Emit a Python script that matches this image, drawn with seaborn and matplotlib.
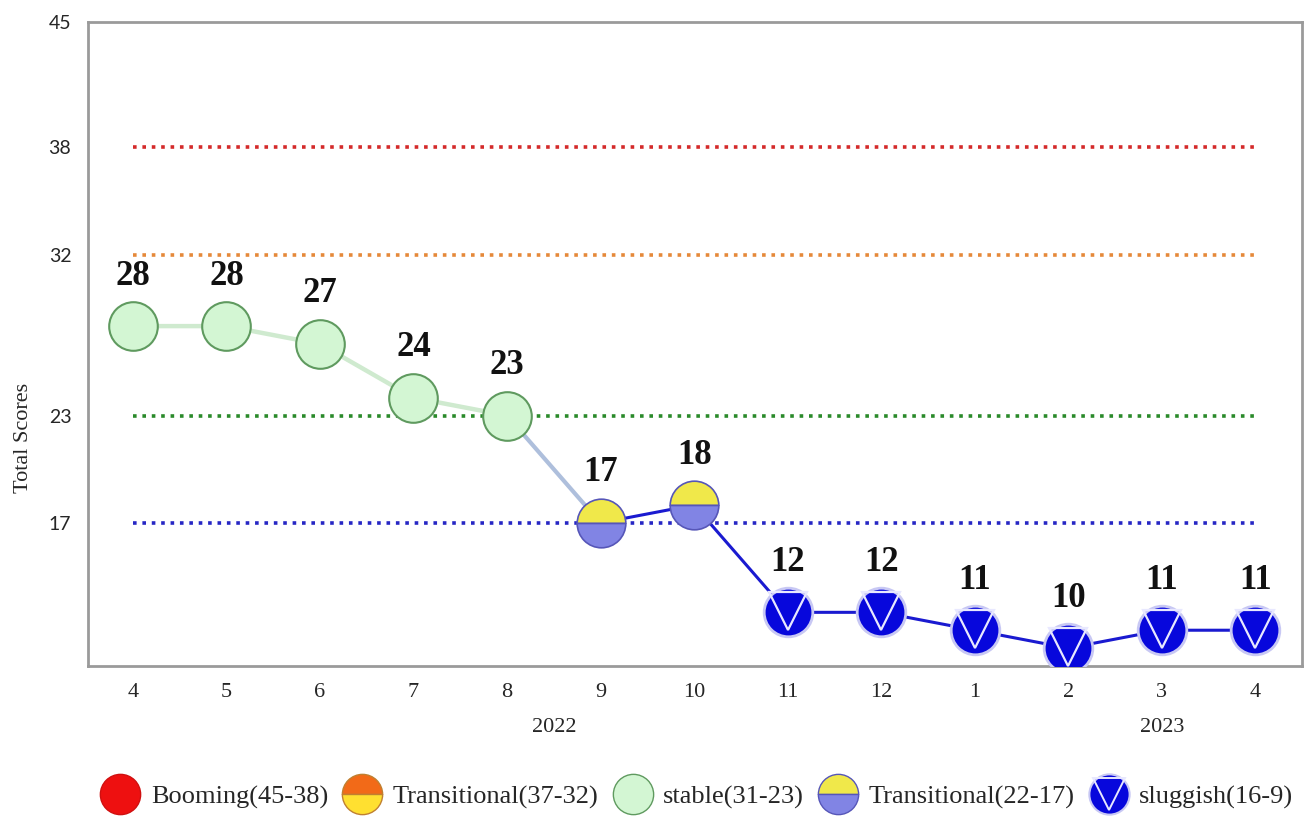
import matplotlib
matplotlib.use("Agg")
import matplotlib.pyplot as plt
from matplotlib.lines import Line2D
from matplotlib.legend_handler import HandlerTuple
import seaborn as sns
import pandas as pd

# ---- data ----
months = ["4", "5", "6", "7", "8", "9", "10", "11", "12", "1", "2", "3", "4"]
scores = [28, 28, 27, 24, 23, 17, 18, 12, 12, 11, 10, 11, 11]
states = ["stable"] * 5 + ["trans2"] * 2 + ["sluggish"] * 6
thresholds = [38, 32, 23, 17]
threshold_colors = ["#d42a2a", "#e5893a", "#2a8a2a", "#2626c4"]
yticks = [17, 23, 32, 38, 45]
years = ["2022", "2023"]
year_pos = [4.5, 11.0]
legend_labels = ["Booming(45-38)", "Transitional(37-32)", "stable(31-23)",
                 "Transitional(22-17)", "sluggish(16-9)"]

df = pd.DataFrame({"x": range(len(scores)), "score": scores, "state": states})

sns.set_style("white")
plt.rcParams["font.family"] = ["Liberation Serif", "DejaVu Serif"]

W, H = 1308, 816
fig = plt.figure(figsize=(W / 100, H / 100), dpi=100)
ax = fig.add_axes([88 / W, 1 - 666 / H, (1302 - 88) / W, (666 - 22) / H])

# threshold dotted lines
for t, c in zip(thresholds, threshold_colors):
    ax.hlines(t, 0, len(scores) - 1, colors=c, linestyles=(0, (1, 1.6)), linewidth=2.6, zorder=1)

# connecting lines
green_part = df[df.x <= 4]
blue_part = df[df.x >= 5]
mid_part = df[(df.x >= 4) & (df.x <= 5)]
sns.lineplot(data=green_part, x="x", y="score", color="#cfeacf", linewidth=3.2, ax=ax, zorder=2)
sns.lineplot(data=mid_part, x="x", y="score", color="#aebfdc", linewidth=3, ax=ax, zorder=2)
sns.lineplot(data=blue_part, x="x", y="score", color="#1a1ad0", linewidth=2.2, ax=ax, zorder=2)

ms = 35  # marker size in points
# stable markers
st = df[df.state == "stable"]
ax.plot(st.x, st.score, "o", ms=ms, mfc="#d3f6d3", mec="#5f9a5f", mew=1.5, ls="none", zorder=3)
# transitional markers (yellow top / blue bottom)
tr = df[df.state == "trans2"]
ax.plot(tr.x, tr.score, "o", ms=ms, fillstyle="top", mfc="#f0e84a", mfcalt="#8184e4",
        mec="#5656b8", mew=1.2, ls="none", zorder=3)
# sluggish markers
sl = df[df.state == "sluggish"]
ax.plot(sl.x, sl.score, "o", ms=ms, mfc="#0707dc", mec="#c8c8f4", mew=2, ls="none", zorder=3)
ax.plot(sl.x, sl.score + 0.05, "v", ms=ms * 0.8, mfc="none", mec="#e8e8ff", mew=1.6, ls="none", zorder=4)

# value labels
for xi, yi in zip(df.x, df.score):
    ax.annotate(str(yi), (xi, yi), xytext=(0, 36), textcoords="offset points",
                ha="center", va="center", fontsize=25, fontweight="bold", color="#111111", zorder=5)

ax.set_xlim(-0.48, 12.5)
ax.set_ylim(9, 45)
ax.set_xticks(range(len(months)))
ax.set_xticklabels(months, fontsize=16)
ax.set_yticks(yticks)
ax.set_yticklabels([str(v) for v in yticks], fontsize=14, family=["Lato", "DejaVu Sans"])
ax.tick_params(axis="x", length=0, pad=12)
ax.tick_params(axis="y", length=0, pad=12)
ax.set_xlabel("")
ax.set_ylabel("Total Scores", fontsize=16)
ax.yaxis.set_label_coords(-(88 - 33) / (1302 - 88), (666 - 438) / (666 - 22))
for s in ax.spines.values():
    s.set_color("#9a9a9a")
    s.set_linewidth(2)

for yr, xp in zip(years, year_pos):
    ax.text(xp, -(728 - 666) / (666 - 22), yr, transform=ax.get_xaxis_transform(),
            ha="center", va="center", fontsize=16)

# legend
lh = 29
h_boom = Line2D([], [], marker="o", ls="none", ms=lh, mfc="#ee1010", mec="#d01010", mew=1)
h_tr1 = Line2D([], [], marker="o", ls="none", ms=lh, fillstyle="top", mfc="#f26a18", mfcalt="#ffe030",
               mec="#c08030", mew=1)
h_st = Line2D([], [], marker="o", ls="none", ms=lh, mfc="#d3f6d3", mec="#5f9a5f", mew=1)
h_tr2 = Line2D([], [], marker="o", ls="none", ms=lh, fillstyle="top", mfc="#f0e84a", mfcalt="#8184e4",
               mec="#5656b8", mew=1)
h_sl = Line2D([], [], marker="o", ls="none", ms=lh, mfc="#0707dc", mec="#c8c8f4", mew=1.5)
h_sl_tri = Line2D([], [], marker="v", ls="none", ms=lh * 0.8, mfc="none", mec="#e8e8ff", mew=1.4)
handles = [h_boom, h_tr1, h_st, h_tr2, (h_sl, h_sl_tri)]
fig.legend(handles, legend_labels, loc="center", bbox_to_anchor=(697 / W, 1 - 797 / H),
           ncol=5, frameon=False, fontsize=19, handletextpad=0.4, columnspacing=0.55,
           handlelength=1.5, borderaxespad=0,
           handler_map={tuple: HandlerTuple(ndivide=1, pad=0)})

fig.savefig("out.png", dpi=100)
